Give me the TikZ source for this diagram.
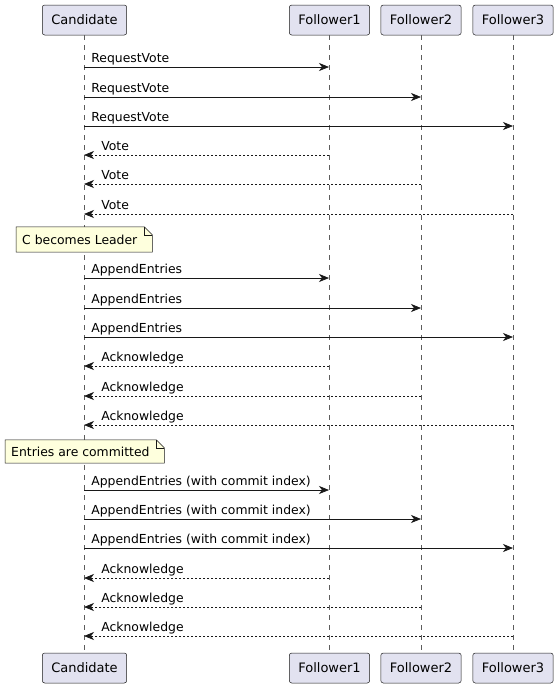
\documentclass[tikz,border=0pt]{standalone}
\usepackage{fontspec}
\setmainfont{DejaVu Sans}
\usepackage{xcolor}
\usetikzlibrary{arrows.meta,positioning,calc}

\definecolor{actorfill}{HTML}{E2E2F0}
\definecolor{notefill}{HTML}{FEFFDD}
\definecolor{edge}{HTML}{181818}

\begin{document}
\begin{tikzpicture}[
    x=1pt, y=-1pt,
    % participant boxes, top and bottom
    actor/.style={draw=edge, fill=actorfill, rounded corners=2.5pt, line width=0.5pt,
      minimum height=30pt, inner xsep=9pt, font=\fontsize{13}{15}\selectfont},
    lifeline/.style={draw=edge!70, line width=0.5pt, dash pattern=on 5pt off 5pt},
    call/.style={-{Stealth[length=10pt,width=8pt,inset=3pt]}, line width=0.7pt, draw=edge},
    reply/.style={call, dash pattern=on 2pt off 2pt},
    msg/.style={font=\fontsize{12.4}{14}\selectfont, inner sep=0pt, anchor=base west},
    notetext/.style={font=\fontsize{12.4}{14}\selectfont, inner sep=0pt, anchor=west},
    notebox/.style={draw=edge, fill=notefill, line width=0.5pt},
  ]
    \useasboundingbox (0,0) rectangle (559,689);

    % participants
    \node[actor] (cand) at (84.5,20) {Candidate};
    \node[actor] (fol1) at (329.5,20) {Follower1};
    \node[actor] (fol2) at (421,20) {Follower2};
    \node[actor] (fol3) at (513,20) {Follower3};
    \node[actor] (candB) at (84.5,668) {Candidate};
    \node[actor] (fol1B) at (329.5,668) {Follower1};
    \node[actor] (fol2B) at (421,668) {Follower2};
    \node[actor] (fol3B) at (513,668) {Follower3};

    \foreach \a in {cand,fol1,fol2,fol3}
      \draw[lifeline] (\a.south) -- (\a B.north);

    % one row per message, on every lifeline
    \foreach \y [count=\i] in {67,97,126,155,184,214,278,308,337,366,396,425,490,519,548,578,607,636} {
      \coordinate (c-\i) at (84,\y);
      \coordinate (f1-\i) at (329,\y);
      \coordinate (f2-\i) at (421,\y);
      \coordinate (f3-\i) at (513,\y);
    }

    % election
    \foreach \i/\f in {1/f1,2/f2,3/f3}
      \draw[call] (c-\i) -- (\f-\i) node[msg, pos=0, xshift=7pt, yshift=5pt] {RequestVote};
    \foreach \i/\f in {4/f1,5/f2,6/f3}
      \draw[reply] (\f-\i) -- (c-\i) node[msg, pos=1, xshift=17pt, yshift=5pt] {Vote};

    \coordinate (leadW) at (16,239.5);
    \node[notetext, minimum width=136pt, minimum height=25pt] (lead) at (leadW) {};
    \draw[notebox] (lead.north west) -- ([xshift=-8pt]lead.north east) -- ([yshift=-8pt]lead.north east)
      -- (lead.south east) -- (lead.south west) -- cycle;
    \draw[edge, line width=0.5pt] ([xshift=-8pt]lead.north east) -- ([xshift=-8pt,yshift=-8pt]lead.north east)
      -- ([yshift=-8pt]lead.north east);
    \node[notetext, xshift=6pt] at (lead.west) {C becomes Leader};

    % replication
    \foreach \i/\f in {7/f1,8/f2,9/f3}
      \draw[call] (c-\i) -- (\f-\i) node[msg, pos=0, xshift=7pt, yshift=5pt] {AppendEntries};
    \foreach \i/\f in {10/f1,11/f2,12/f3}
      \draw[reply] (\f-\i) -- (c-\i) node[msg, pos=1, xshift=17pt, yshift=5pt] {Acknowledge};

    \coordinate (commitW) at (5,451.5);
    \node[notetext, minimum width=159pt, minimum height=23pt] (commit) at (commitW) {};
    \draw[notebox] (commit.north west) -- ([xshift=-8pt]commit.north east) -- ([yshift=-8pt]commit.north east)
      -- (commit.south east) -- (commit.south west) -- cycle;
    \draw[edge, line width=0.5pt] ([xshift=-8pt]commit.north east) -- ([xshift=-8pt,yshift=-8pt]commit.north east)
      -- ([yshift=-8pt]commit.north east);
    \node[notetext, xshift=6pt] at (commit.west) {Entries are committed};

    % commit index
    \foreach \i/\f in {13/f1,14/f2,15/f3}
      \draw[call] (c-\i) -- (\f-\i) node[msg, pos=0, xshift=7pt, yshift=5pt] {AppendEntries (with commit index)};
    \foreach \i/\f in {16/f1,17/f2,18/f3}
      \draw[reply] (\f-\i) -- (c-\i) node[msg, pos=1, xshift=17pt, yshift=5pt] {Acknowledge};
\end{tikzpicture}
\end{document}
